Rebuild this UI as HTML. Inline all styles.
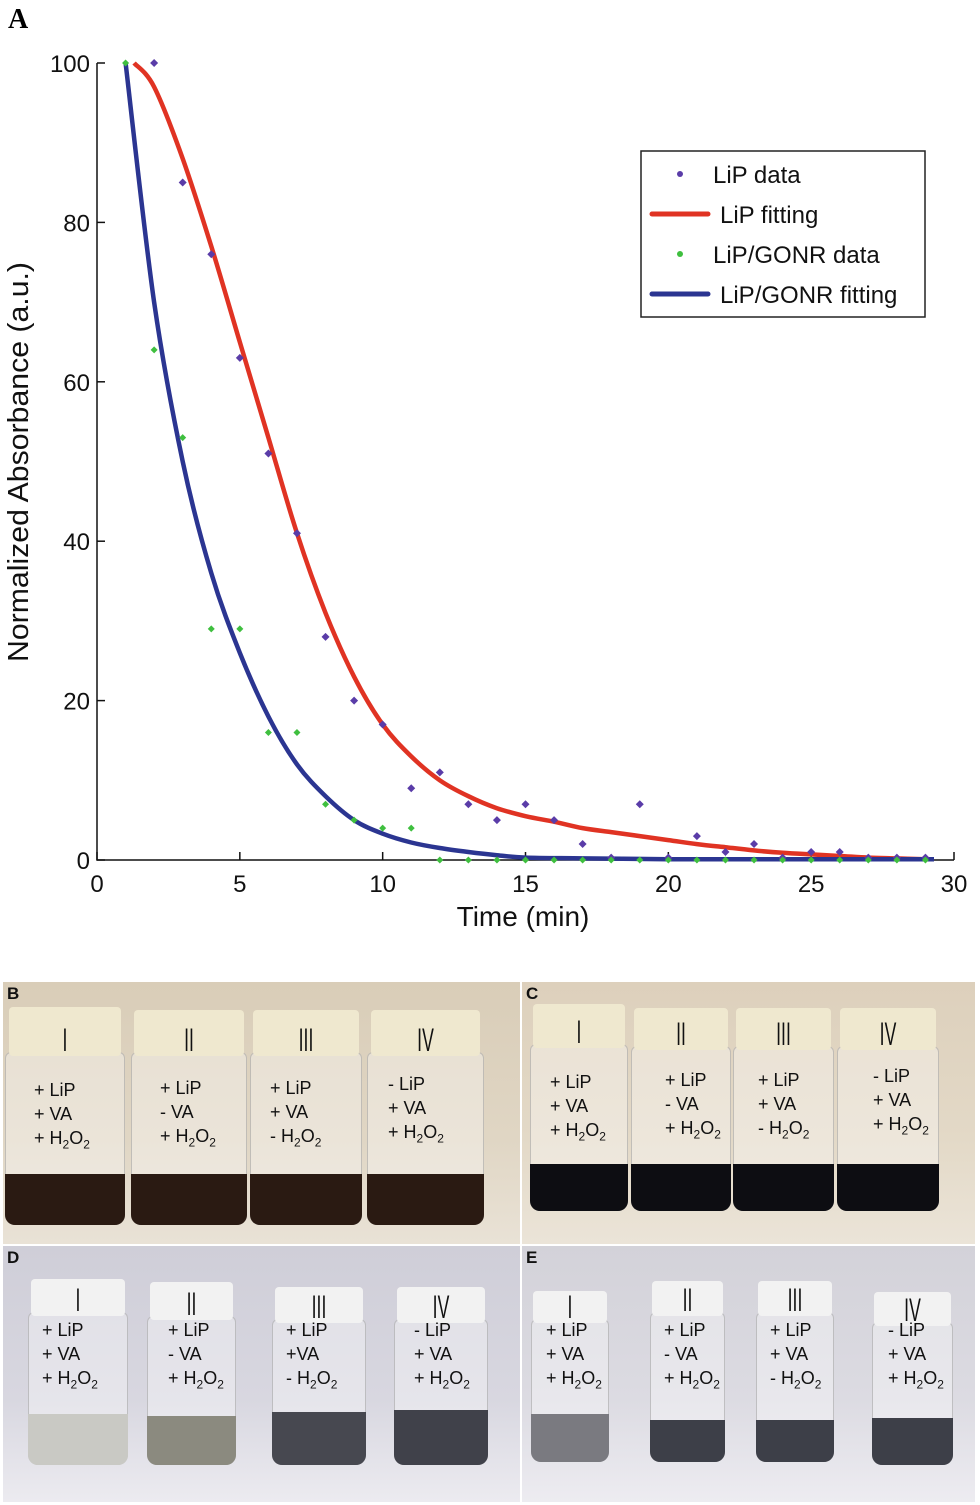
<!DOCTYPE html>
<html><head><meta charset="utf-8">
<style>
html,body{margin:0;padding:0;background:#fff;}
body{width:980px;height:1505px;position:relative;overflow:hidden;font-family:"Liberation Sans",sans-serif;}
#chart{position:absolute;left:0;top:0;}
.panel{position:absolute;overflow:hidden;}
.plabel{position:absolute;left:4px;top:2px;font-weight:bold;font-size:17px;color:#111;}
.vial{position:absolute;}
.cap{position:absolute;left:3%;width:94%;border-radius:4px;}
.glass{position:absolute;left:0;width:100%;border-radius:6px 6px 10px 10px;background:rgba(255,255,255,0.35);border:1px solid rgba(150,150,150,0.5);box-sizing:border-box;}
.liq{position:absolute;left:0;width:100%;border-radius:0 0 10px 10px;}
.roman{position:absolute;width:100%;text-align:center;font-size:32px;color:#111;font-family:"Liberation Sans",sans-serif;transform:scaleX(0.55);}
.vtext{position:absolute;font-size:18px;line-height:24px;color:#111;white-space:nowrap;}
.vtext sub{font-size:12px;}
</style></head><body>
<svg id="chart" width="980" height="975"></svg>
<div id="photos"></div>
<script>
const lipTimes=[2,3,4,5,6,7,8,9,10,11,12,13,14,15,16,17,18,19,20,21,22,23,24,25,26,27,28,29];
const lipData=[100,85,76,63,51,41,28,20,17,9,11,7,5,7,5,2,0.3,7,0.3,3,1,2,0.3,1,1,0.3,0.3,0.3];
const gonrTimes=[1,2,3,4,5,6,7,8,9,10,11,12,13,14,15,16,17,18,19,20,21,22,23,24,25,26,27,28,29];
const gonrData=[100,64,53,29,29,16,16,7,5,4,4,0,0,0,0,0,0,0,0,0,0,0,0,0,0,0,0,0,0];
const lipFitT=[1.3,2,3,4,5,6,7,8,9,10,11,12,13,14,15,16,17,18,19,20,21,22,23,24,25,26,27,28,29];
const lipFitV=[100,97,88,77,65,53,41,31,23,17,13,10,8,6.5,5.5,4.8,4,3.5,3,2.5,2,1.6,1.2,0.9,0.7,0.5,0.3,0.2,0.1];
const gonrFitT=[1,2,3,4,5,6,7,8,9,10,11,12,13,14,15,17,20,25,29.3];
const gonrFitV=[100,70,50,36,26,18,12,8,5,3.3,2.2,1.5,1,0.6,0.3,0.2,0.1,0.1,0.1];
const xTicks=[0,5,10,15,20,25,30];
const yTicks=[0,20,40,60,80,100];

const NS='http://www.w3.org/2000/svg';
const svg=document.getElementById('chart');
const X=v=>97+v*(954-97)/30;
const Y=v=>860-v*(860-63)/100;
function mk(tag,attrs,parent){const e=document.createElementNS(NS,tag);for(const k in attrs)e.setAttribute(k,attrs[k]);(parent||svg).appendChild(e);return e;}

let t=mk('text',{x:8,y:28,'font-family':'Liberation Serif, serif','font-size':28,'font-weight':'bold'});t.textContent='A';



let ax=mk('path',{d:`M${X(0)},${Y(100)} L${X(0)},${Y(0)} L${X(30)},${Y(0)}`,fill:'none',stroke:'#111','stroke-width':1.5});


xTicks.forEach(v=>{
  let l=mk('line',{x1:X(v),x2:X(v),y1:Y(0),y2:Y(0)-8,stroke:'#111','stroke-width':1.5});
  
  
  let tx=mk('text',{x:X(v),y:892,'text-anchor':'middle','font-size':24,fill:'#111'});tx.textContent=v;
  
  
});
yTicks.forEach(v=>{
  let l=mk('line',{x1:X(0),x2:X(0)+8,y1:Y(v),y2:Y(v),stroke:'#111','stroke-width':1.5});
  
  
  let tx=mk('text',{x:90,y:Y(v)+9,'text-anchor':'end','font-size':24,fill:'#111'});tx.textContent=v;
  
  
});
let xt=mk('text',{x:523,y:926,'text-anchor':'middle','font-size':28,fill:'#111'});xt.textContent='Time (min)';


let yt=mk('text',{x:0,y:0,'text-anchor':'middle','font-size':29,fill:'#111',transform:'translate(28,462) rotate(-90)',textLength:400,lengthAdjust:'spacingAndGlyphs'});yt.textContent='Normalized Absorbance (a.u.)';



function pathFrom(ts,vs){
  const p=ts.map((tv,i)=>[X(tv),Y(vs[i])]);
  let d='M'+p[0][0].toFixed(1)+','+p[0][1].toFixed(1);
  for(let i=0;i<p.length-1;i++){
    const p0=p[Math.max(0,i-1)],p1=p[i],p2=p[i+1],p3=p[Math.min(p.length-1,i+2)];
    const c1=[p1[0]+(p2[0]-p0[0])/6,p1[1]+(p2[1]-p0[1])/6];
    const c2=[p2[0]-(p3[0]-p1[0])/6,p2[1]-(p3[1]-p1[1])/6];
    d+=` C${c1[0].toFixed(1)},${c1[1].toFixed(1)} ${c2[0].toFixed(1)},${c2[1].toFixed(1)} ${p2[0].toFixed(1)},${p2[1].toFixed(1)}`;
  }
  return d;
}
let rf=mk('path',{d:pathFrom(lipFitT,lipFitV),fill:'none',stroke:'#e03323','stroke-width':4.5,'stroke-linejoin':'round'});


let bf=mk('path',{d:pathFrom(gonrFitT,gonrFitV),fill:'none',stroke:'#2b3591','stroke-width':4.5,'stroke-linejoin':'round'});


lipTimes.forEach((tv,i)=>{
  let c=mk('path',{d:`M${X(tv)-4},${Y(lipData[i])} L${X(tv)},${Y(lipData[i])-4} L${X(tv)+4},${Y(lipData[i])} L${X(tv)},${Y(lipData[i])+4}Z`,fill:'#5a3ca8'});
  
  
});
gonrTimes.forEach((tv,i)=>{
  let c=mk('path',{d:`M${X(tv)-3.5},${Y(gonrData[i])} L${X(tv)},${Y(gonrData[i])-3.5} L${X(tv)+3.5},${Y(gonrData[i])} L${X(tv)},${Y(gonrData[i])+3.5}Z`,fill:'#3fbf3f'});
  
  
});
let lg=mk('g',{});


mk('rect',{x:641,y:151,width:284,height:166,fill:'#fff',stroke:'#222','stroke-width':1.5},lg);
const legItems=[['LiP data','dot','#5a3ca8',183],['LiP fitting','line','#e03323',223],['LiP/GONR data','dot','#3fbf3f',263],['LiP/GONR fitting','line','#2b3591',303]];
legItems.forEach(it=>{
  let g=mk('g',{},lg);
  
  
  if(it[1]=='dot'){mk('circle',{cx:680,cy:it[3]-9,r:3,fill:it[2]},g);}
  else mk('line',{x1:652,x2:708,y1:it[3]-9,y2:it[3]-9,stroke:it[2],'stroke-width':5,'stroke-linecap':'round'},g);
  let tx=mk('text',{x:it[1]=='dot'?713:720,y:it[3],'font-size':24,fill:'#111'},g);tx.textContent=it[0];
});

const photos=document.getElementById('photos');
const panels=[
 {name:'photo-panel-b',label:'B',x:3,y:982,w:517,h:262,bg:'linear-gradient(#d9cdb8,#e0d6c4 60%,#e9e2d6)',cap:'#efe8cf',
  vials:[[5,120,1007,1056,1225,1174,'#2a1a12','I',['+ LiP','+ VA','+ H<sub>2</sub>O<sub>2</sub>'],1078,34],
         [131,116,1010,1056,1225,1174,'#2a1a12','II',['+ LiP','- VA','+ H<sub>2</sub>O<sub>2</sub>'],1076,160],
         [250,112,1010,1056,1225,1174,'#2a1a12','III',['+ LiP','+ VA','- H<sub>2</sub>O<sub>2</sub>'],1076,270],
         [367,117,1010,1056,1225,1174,'#2a1a12','IV',['- LiP','+ VA','+ H<sub>2</sub>O<sub>2</sub>'],1072,388]]},
 {name:'photo-panel-c',label:'C',x:522,y:982,w:453,h:262,bg:'linear-gradient(#ddd0bc,#e3d9c7 60%,#ebe4d8)',cap:'#efe8cf',
  vials:[[530,98,1004,1048,1211,1164,'#0d0d12','I',['+ LiP','+ VA','+ H<sub>2</sub>O<sub>2</sub>'],1070,550],
         [631,100,1008,1050,1211,1164,'#0d0d12','II',['+ LiP','- VA','+ H<sub>2</sub>O<sub>2</sub>'],1068,665],
         [733,101,1008,1050,1211,1164,'#0d0d12','III',['+ LiP','+ VA','- H<sub>2</sub>O<sub>2</sub>'],1068,758],
         [837,102,1008,1050,1211,1164,'#0d0d12','IV',['- LiP','+ VA','+ H<sub>2</sub>O<sub>2</sub>'],1064,873]]},
 {name:'photo-panel-d',label:'D',x:3,y:1246,w:517,h:256,bg:'linear-gradient(#cfced8,#d8d7e0 60%,#ecebf0)',cap:'#f2f2f2',
  vials:[[28,100,1279,1316,1465,1414,'#c9c9c4','I',['+ LiP','+ VA','+ H<sub>2</sub>O<sub>2</sub>'],1318,42],
         [147,89,1282,1320,1465,1416,'#8b8a7f','II',['+ LiP','- VA','+ H<sub>2</sub>O<sub>2</sub>'],1318,168],
         [272,94,1287,1323,1465,1412,'#474850','III',['+ LiP','+VA','- H<sub>2</sub>O<sub>2</sub>'],1318,286],
         [394,94,1287,1323,1465,1410,'#40414a','IV',['- LiP','+ VA','+ H<sub>2</sub>O<sub>2</sub>'],1318,414]]},
 {name:'photo-panel-e',label:'E',x:522,y:1246,w:453,h:256,bg:'linear-gradient(#d3d2d9,#dcdbe2 60%,#edecf1)',cap:'#f2f2f2',
  vials:[[531,78,1291,1323,1462,1414,'#7a7a80','I',['+ LiP','+ VA','+ H<sub>2</sub>O<sub>2</sub>'],1318,546],
         [650,75,1281,1316,1462,1420,'#3d3f48','II',['+ LiP','- VA','+ H<sub>2</sub>O<sub>2</sub>'],1318,664],
         [756,78,1281,1316,1462,1420,'#3d3f48','III',['+ LiP','+ VA','- H<sub>2</sub>O<sub>2</sub>'],1318,770],
         [872,81,1292,1326,1465,1418,'#3d3f48','IV',['- LiP','+ VA','+ H<sub>2</sub>O<sub>2</sub>'],1318,888]]}
];
panels.forEach(p=>{
  const d=document.createElement('div');d.className='panel';
  
  
  d.style.cssText=`left:${p.x}px;top:${p.y}px;width:${p.w}px;height:${p.h}px;background:${p.bg};`;
  const lb=document.createElement('div');lb.className='plabel';lb.textContent=p.label;
  
  
  d.appendChild(lb);
  p.vials.forEach(v=>{
    const [vx,vw,ct,cb,gb,lt,lc,rom,lines,ty,tx]=v;
    const vd=document.createElement('div');vd.className='vial';
    
    
    vd.style.cssText=`left:${vx-p.x}px;top:${ct-p.y}px;width:${vw}px;height:${gb-ct}px;`;
    const g=document.createElement('div');g.className='glass';g.style.top=(cb-ct-4)+'px';g.style.height=(gb-cb+4)+'px';vd.appendChild(g);
    const l=document.createElement('div');l.className='liq';l.style.top=(lt-ct)+'px';l.style.height=(gb-lt)+'px';l.style.background=lc;vd.appendChild(l);
    const c=document.createElement('div');c.className='cap';c.style.top='0px';c.style.height=(cb-ct)+'px';c.style.background=p.cap;vd.appendChild(c);
    const r=document.createElement('div');r.className='roman';r.textContent=rom;r.style.top=(cb-ct-34)+'px';vd.appendChild(r);
    d.appendChild(vd);
    const txt=document.createElement('div');txt.className='vtext';
    
    
    txt.style.left=(tx-p.x)+'px';txt.style.top=(ty-p.y)+'px';
    txt.innerHTML=lines.join('<br>');
    d.appendChild(txt);
  });
  photos.appendChild(d);
});
</script>
</body></html>
